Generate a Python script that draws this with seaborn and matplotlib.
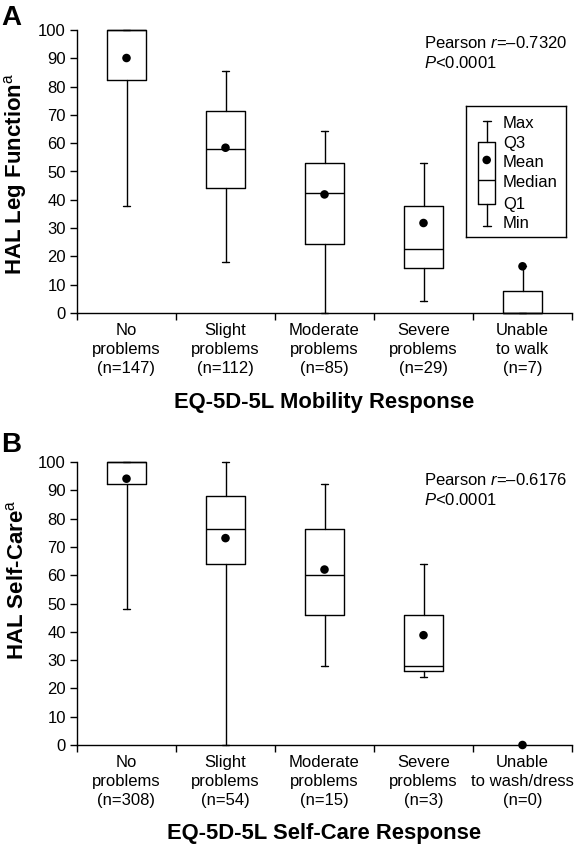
import numpy as np
import matplotlib.pyplot as plt
import seaborn as sns

# Panel A: HAL Leg Function by EQ-5D-5L Mobility
labels_a = ["No\nproblems\n(n=147)", "Slight\nproblems\n(n=112)", "Moderate\nproblems\n(n=85)",
            "Severe\nproblems\n(n=29)", "Unable\nto walk\n(n=7)"]
min_a = [37.8, 17.9, 0.0, 4.3, 0.0]
q1_a = [82.3, 44.0, 24.5, 15.8, 0.0]
med_a = [100.0, 57.8, 42.4, 22.6, 0.0]
q3_a = [100.0, 71.5, 53.1, 37.7, 7.8]
max_a = [100.0, 85.6, 64.4, 53.0, 16.5]
mean_a = [90.1, 58.4, 41.9, 31.8, 16.5]

# Panel B: HAL Self-Care by EQ-5D-5L Self-Care
labels_b = ["No\nproblems\n(n=308)", "Slight\nproblems\n(n=54)", "Moderate\nproblems\n(n=15)",
            "Severe\nproblems\n(n=3)", "Unable\nto wash/dress\n(n=0)"]
min_b = [48.2, 0.0, 27.9, 24.2, np.nan]
q1_b = [92.2, 63.9, 46.0, 26.2, np.nan]
med_b = [100.0, 76.2, 60.1, 28.0, np.nan]
q3_b = [100.0, 88.0, 76.3, 46.0, np.nan]
max_b = [100.0, 100.0, 92.2, 63.9, np.nan]
mean_b = [94.1, 73.1, 62.0, 38.8, 0.0]

yticks = list(range(0, 101, 10))

sns.set_style("ticks", {"axes.edgecolor": "black", "text.color": "black",
                        "xtick.color": "black", "ytick.color": "black"})
plt.rcParams['font.family'] = ['Liberation Sans', 'DejaVu Sans']
plt.rcParams['mathtext.fontset'] = 'custom'
plt.rcParams['mathtext.rm'] = 'Liberation Sans'
plt.rcParams['mathtext.it'] = 'Liberation Sans:italic'

line = dict(color='black', linewidth=1.0)


def draw_box(ax, pos, lo, q1, med, q3, hi, width, capw):
    stats = []
    keep = []
    for p, a, b, c, d, e in zip(pos, lo, q1, med, q3, hi):
        if np.isnan(a):
            continue
        stats.append(dict(whislo=a, q1=b, med=c, q3=d, whishi=e, fliers=[]))
        keep.append(p)
    arts = ax.bxp(stats, positions=keep, widths=width, capwidths=capw, showfliers=False,
                  boxprops=line, whiskerprops=line, capprops=line, medianprops=line,
                  manage_ticks=False)
    for group in arts.values():
        for a in group:
            a.set_clip_on(False)


def draw_panel(ax, labels, lo, q1, med, q3, hi, means):
    pos = np.arange(len(labels))
    draw_box(ax, pos, lo, q1, med, q3, hi, 0.4, 0.07)
    sns.scatterplot(x=pos, y=means, color='black', s=38, edgecolor='none',
                    zorder=5, clip_on=False, ax=ax)
    ax.set_xlim(-0.5, len(labels) - 0.5)
    ax.set_ylim(0, 100)
    ax.set_yticks(yticks)
    ax.set_xticks(np.arange(-0.5, len(labels), 1.0))
    ax.set_xticklabels([])
    ax.set_xticks(pos, minor=True)
    ax.set_xticklabels(labels, minor=True, fontsize=12, linespacing=1.35)
    ax.tick_params(axis='x', which='minor', length=0, pad=7)
    ax.tick_params(axis='both', which='major', length=5, width=1, labelsize=12, direction='out')
    ax.tick_params(axis='y', pad=3)
    for s in ['left', 'bottom']:
        ax.spines[s].set_linewidth(1.0)
    sns.despine(ax=ax)


fig = plt.figure(figsize=(5.74, 8.46), dpi=100)
W, H = 574.0, 846.0

ax_a = fig.add_axes([77 / W, 1 - 313 / H, 495 / W, 283 / H])
draw_panel(ax_a, labels_a, min_a, q1_a, med_a, q3_a, max_a, mean_a)
ax_a.text(0.701, 95.4, "Pearson $r$=\u20130.7320", fontsize=12, va='center',
          transform=ax_a.get_yaxis_transform())
ax_a.text(0.701, 88.3, "$P$<0.0001", fontsize=12, va='center',
          transform=ax_a.get_yaxis_transform())
ax_a.text(0.5, -0.316, "EQ-5D-5L Mobility Response", fontsize=15.8, fontweight='bold',
          ha='center', va='center', transform=ax_a.transAxes)

ax_b = fig.add_axes([77 / W, 1 - 745 / H, 495 / W, 283 / H])
draw_panel(ax_b, labels_b, min_b, q1_b, med_b, q3_b, max_b, mean_b)
ax_b.text(0.701, 93.6, "Pearson $r$=\u20130.6176", fontsize=12, va='center',
          transform=ax_b.get_yaxis_transform())
ax_b.text(0.701, 86.6, "$P$<0.0001", fontsize=12, va='center',
          transform=ax_b.get_yaxis_transform())
ax_b.text(0.5, -0.314, "EQ-5D-5L Self-Care Response", fontsize=15.8, fontweight='bold',
          ha='center', va='center', transform=ax_b.transAxes)

# y labels and panel letters
fig.text(16 / W, 1 - 174 / H, "HAL Leg Function$^{\\mathrm{a}}$", rotation=90,
         fontsize=16, fontweight='bold', ha='center', va='center')
fig.text(17 / W, 1 - 580 / H, "HAL Self-Care$^{\\mathrm{a}}$", rotation=90,
         fontsize=16, fontweight='bold', ha='center', va='center')
fig.text(1 / W, 1 - 25 / H, "A", fontsize=20, fontweight='bold', ha='left', va='baseline')
fig.text(1 / W, 1 - 452 / H, "B", fontsize=20, fontweight='bold', ha='left', va='baseline')

# key box for panel A
ax_k = fig.add_axes([466 / W, 1 - 237 / H, 100 / W, 131 / H])
ax_k.set_xlim(0, 1)
ax_k.set_ylim(0, 1)
ax_k.set_xticks([])
ax_k.set_yticks([])
for s in ax_k.spines.values():
    s.set_visible(True)
    s.set_linewidth(1.0)
    s.set_color('black')
draw_box(ax_k, [0.207], [0.084], [0.254], [0.433], [0.723], [0.888], 0.17, 0.08)
ax_k.scatter([0.207], [0.588], color='black', s=38, edgecolor='none', zorder=5)
key_labels = ["Max", "Q3", "Mean", "Median", "Q1", "Min"]
key_y = [0.87, 0.71, 0.565, 0.415, 0.25, 0.10]
for lab, yy in zip(key_labels, key_y):
    ax_k.text(0.37, yy, lab, fontsize=12, va='center', ha='left')

fig.savefig("out.png", dpi=100)
